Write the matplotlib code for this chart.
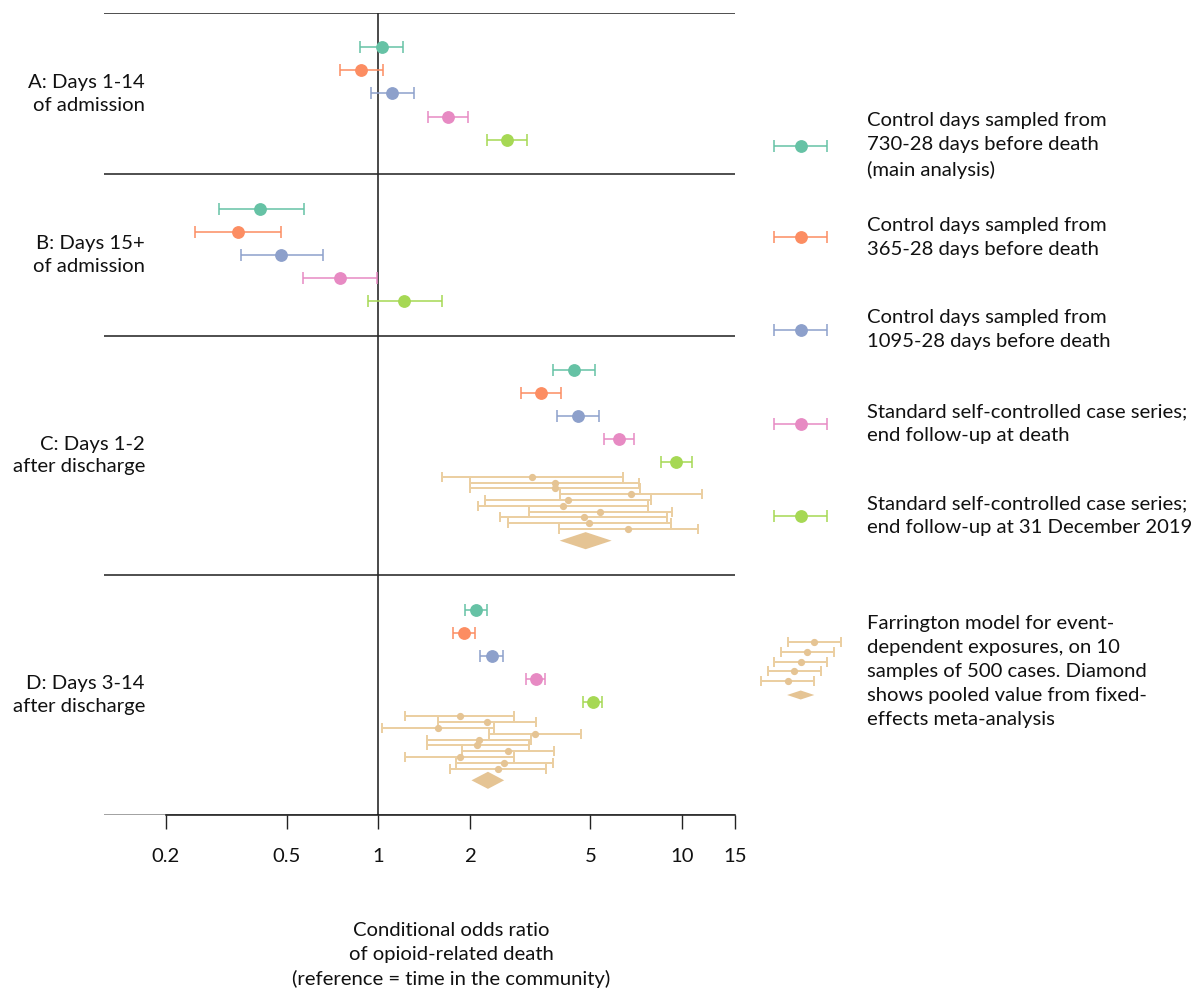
import matplotlib
matplotlib.use("Agg")
import matplotlib.pyplot as plt
from matplotlib.patches import Polygon
from matplotlib.transforms import blended_transform_factory
from matplotlib.ticker import NullLocator

plt.rcParams['font.family'] = ['Lato', 'DejaVu Sans']

# ---------------- data ----------------
series_labels = [
    "Control days sampled from\n730-28 days before death\n(main analysis)",
    "Control days sampled from\n365-28 days before death",
    "Control days sampled from\n1095-28 days before death",
    "Standard self-controlled case series;\nend follow-up at death",
    "Standard self-controlled case series;\nend follow-up at 31 December 2019",
]
farr_label = ("Farrington model for event-\ndependent exposures, on 10\n"
              "samples of 500 cases. Diamond\nshows pooled value from fixed-\n"
              "effects meta-analysis")
colors = ['#66c2a5', '#fc8d62', '#8da0cb', '#e78ac3', '#a6d854']
farr_color = '#e5c494'
farr_line_color = '#ebcea0'

panel_labels = ["A: Days 1-14\nof admission", "B: Days 15+\nof admission",
                "C: Days 1-2\nafter discharge", "D: Days 3-14\nafter discharge"]

A_or = [1.03, 0.88, 1.11, 1.70, 2.65]
A_lo = [0.87, 0.75, 0.95, 1.46, 2.28]
A_hi = [1.21, 1.04, 1.31, 1.97, 3.08]

B_or = [0.41, 0.345, 0.48, 0.75, 1.22]
B_lo = [0.30, 0.25, 0.355, 0.565, 0.93]
B_hi = [0.57, 0.48, 0.66, 0.99, 1.62]

C_or = [4.41, 3.44, 4.56, 6.21, 9.58]
C_lo = [3.77, 2.95, 3.89, 5.53, 8.53]
C_hi = [5.17, 4.00, 5.33, 6.97, 10.76]

D_or = [2.10, 1.92, 2.37, 3.30, 5.08]
D_lo = [1.93, 1.76, 2.17, 3.07, 4.72]
D_hi = [2.29, 2.09, 2.58, 3.54, 5.47]

C_farr_or = [3.22, 3.81, 3.83, 6.79, 4.23, 4.06, 5.37, 4.75, 4.96, 6.66]
C_farr_lo = [1.62, 2.01, 2.01, 3.96, 2.25, 2.13, 3.13, 2.52, 2.68, 3.95]
C_farr_hi = [6.40, 7.22, 7.25, 11.63, 7.93, 7.73, 9.25, 8.95, 9.20, 11.26]
C_pooled = [3.96, 4.82, 5.87]   # lower, estimate, upper

D_farr_or = [1.86, 2.28, 1.58, 3.29, 2.15, 2.12, 2.68, 1.86, 2.60, 2.48]
D_farr_lo = [1.23, 1.57, 1.03, 2.32, 1.45, 1.45, 1.89, 1.23, 1.80, 1.72]
D_farr_hi = [2.80, 3.30, 2.41, 4.65, 3.19, 3.13, 3.79, 2.81, 3.76, 3.57]
D_pooled = [2.03, 2.30, 2.60]

tick_values = [0.2, 0.5, 1, 2, 5, 10, 15]
tick_labels = ['0.2', '0.5', '1', '2', '5', '10', '15']
xlabel = "Conditional odds ratio\nof opioid-related death\n(reference = time in the community)"

panels = [
    (A_or, A_lo, A_hi, None),
    (B_or, B_lo, B_hi, None),
    (C_or, C_lo, C_hi, (C_farr_or, C_farr_lo, C_farr_hi, C_pooled)),
    (D_or, D_lo, D_hi, (D_farr_or, D_farr_lo, D_farr_hi, D_pooled)),
]

FS = 14.6
LS = 1.5

# ---------------- layout ----------------
W, H = 1199, 994
fig = plt.figure(figsize=(W / 100, H / 100), dpi=100)
ax_left_px, ax_right_px, ax_top_px, ax_bot_px = 103.5, 735.5, 13, 815
ax = fig.add_axes([ax_left_px / W, 1 - ax_bot_px / H,
                   (ax_right_px - ax_left_px) / W, (ax_bot_px - ax_top_px) / H])

TOP_PAD, ROW_STEP, FARR_GAP, FARR_STEP, DIA_GAP, BOT_PAD = 1.48, 1.0, 0.62, 0.252, 0.50, 1.5
DIA_HALF_H = 0.37


def main_style(c):
    return dict(fmt='o', ms=8.2, capsize=4.3, elinewidth=1.1, capthick=1.1,
                color=c, ecolor=c, mec=c, mfc=c)


farr_kw = dict(fmt='o', ms=4.2, capsize=3.6, elinewidth=1.4, capthick=1.4,
               mfc=farr_color, mec=farr_color, ecolor=farr_line_color)

y = 0.0
boundaries = [0.0]
centers = []
for (ors, los, his, farr) in panels:
    top = y
    y += TOP_PAD
    for i in range(len(ors)):
        ax.errorbar([ors[i]], [y], xerr=[[ors[i] - los[i]], [his[i] - ors[i]]],
                    zorder=3, **main_style(colors[i]))
        if i < len(ors) - 1:
            y += ROW_STEP
    if farr is not None:
        f_or, f_lo, f_hi, pooled = farr
        y += FARR_GAP
        for j in range(len(f_or)):
            ax.errorbar([f_or[j]], [y], xerr=[[f_or[j] - f_lo[j]], [f_hi[j] - f_or[j]]],
                        zorder=2, **farr_kw)
            if j < len(f_or) - 1:
                y += FARR_STEP
        y += DIA_GAP
        lo, est, hi = pooled
        ax.add_patch(Polygon([(lo, y), (est, y - DIA_HALF_H), (hi, y), (est, y + DIA_HALF_H)],
                             closed=True, facecolor=farr_color, edgecolor='none', zorder=2))
    y += BOT_PAD
    boundaries.append(y)
    centers.append((top + y) / 2)

ax.set_xscale('log')
ax.set_xlim(0.125, 15)
ax.set_ylim(boundaries[-1], 0)

for b in boundaries[:-1]:
    ax.axhline(b, color='#1e1e1e', lw=1.1, zorder=1)
ax.axhline(boundaries[-1], color='#888888', lw=1.1, zorder=1)
ax.axvline(1, color='#2a2a2a', lw=1.2, zorder=1)

for s in ['top', 'right', 'left']:
    ax.spines[s].set_visible(False)
ax.spines['bottom'].set_bounds(0.2, 15)
ax.spines['bottom'].set_color('#111111')
ax.spines['bottom'].set_linewidth(1.1)
ax.spines['bottom'].set_zorder(2)
ax.set_yticks([])
ax.set_xticks(tick_values)
ax.set_xticklabels(tick_labels)
ax.xaxis.set_minor_locator(NullLocator())
ax.tick_params(axis='x', direction='out', length=10, width=1.0, color='#222222',
               labelsize=FS, pad=14, labelcolor='#111111')

# panel labels
tr = blended_transform_factory(fig.transFigure, ax.transData)
for lab, c in zip(panel_labels, centers):
    ax.text(145 / W, c, lab, transform=tr, ha='right', va='center', multialignment='right',
            fontsize=FS, color='#111111', linespacing=1.42)

fig.text(451 / W, 1 - 955 / H, xlabel, ha='center', va='center', multialignment='center',
         fontsize=FS, color='#111111', linespacing=LS)

# ---------------- legend (pixel-coordinate overlay) ----------------
lg = fig.add_axes([0, 0, 1, 1], zorder=-1)
lg.set_xlim(0, W)
lg.set_ylim(H, 0)
lg.axis('off')
icon_x, icon_half, text_x = 800.7, 26.5, 867
entry_y = [145.5, 237, 330, 423.5, 515.5]
for i, (lab, yy) in enumerate(zip(series_labels, entry_y)):
    lg.errorbar([icon_x], [yy], xerr=[[icon_half], [icon_half]], **main_style(colors[i]))
    lg.text(text_x, yy, lab, ha='left', va='center', fontsize=FS, color='#111111',
            linespacing=LS)

farr_y = 671.7
n_icon = 5
for k in range(n_icon):
    cy = 642.3 + k * 9.6
    cx = 814 - k * 6.6
    lg.errorbar([cx], [cy], xerr=[[icon_half], [icon_half]], **farr_kw)
lg.add_patch(Polygon([(icon_x - 13.6, 695), (icon_x, 690.5), (icon_x + 13.6, 695), (icon_x, 699.5)],
                     closed=True, facecolor=farr_color, edgecolor='none'))
lg.text(text_x, farr_y, farr_label, ha='left', va='center', fontsize=FS, color='#111111',
        linespacing=LS)

fig.savefig('out.png', dpi=100)
